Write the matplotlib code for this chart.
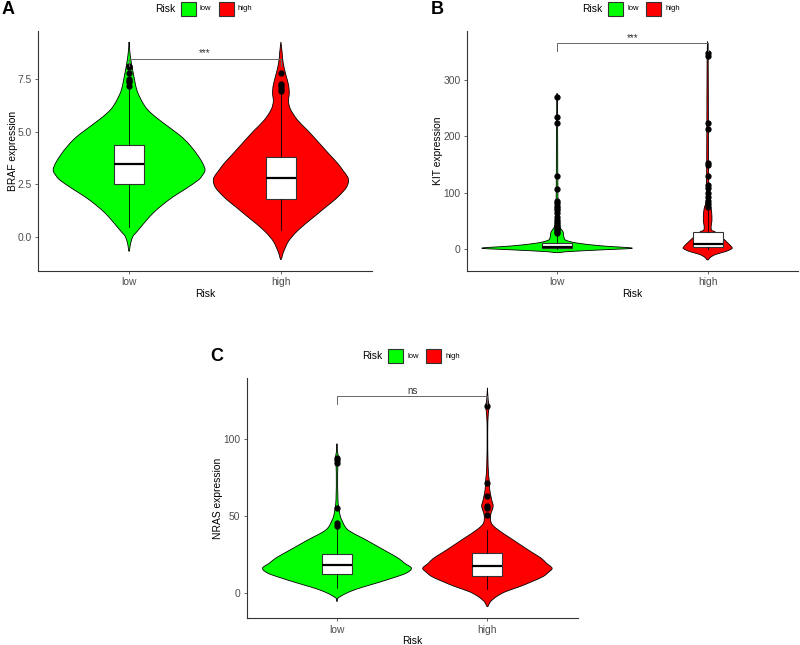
import matplotlib
matplotlib.use("Agg")
import matplotlib.pyplot as plt
from matplotlib.patches import Rectangle, PathPatch
from matplotlib.path import Path

plt.rcParams['font.family'] = ['Liberation Sans', 'DejaVu Sans']

# ---------------- data ----------------
risk_groups = ["low", "high"]
risk_colors = ["#00FF00", "#FF0000"]

# violin outlines: value grid and relative density (1.0 = widest possible violin)
braf_low_y = [9.26, 8.8, 8.26, 7.5, 7.0, 6.65, 6.2, 5.88, 5.5, 5.07, 4.7, 4.28, 3.9, 3.5,
              3.17, 2.9, 2.7, 2.3, 1.91, 1.5, 1.15, 0.8, 0.5, 0.2, 0.03, -0.3, -0.68]
braf_low_d = [0, 0.01, 0.03, 0.07, 0.10, 0.14, 0.21, 0.29, 0.42, 0.58, 0.71, 0.82, 0.90, 0.97,
              1.0, 0.96, 0.91, 0.75, 0.58, 0.43, 0.32, 0.23, 0.16, 0.09, 0.05, 0.02, 0]
braf_high_y = [9.26, 8.8, 8.26, 7.7, 7.22, 6.83, 6.43, 6.04, 5.55, 5.07, 4.68, 4.28, 3.88, 3.49,
               3.15, 2.85, 2.63, 2.4, 2.2, 1.8, 1.42, 1.0, 0.65, 0.3, 0.03, -0.2, -0.44, -0.75, -1.07]
braf_high_d = [0, 0.015, 0.03, 0.066, 0.10, 0.11, 0.10, 0.13, 0.22, 0.35, 0.45, 0.55, 0.65, 0.75,
               0.82, 0.88, 0.89, 0.87, 0.83, 0.72, 0.59, 0.45, 0.33, 0.22, 0.15, 0.10, 0.066, 0.03, 0]

kit_low_y = [277, 240, 200, 100, 50, 40, 35, 30, 25, 20, 15, 10, 5, 1, -2, -5, -7]
kit_low_d = [0, 0.005, 0.008, 0.011, 0.02, 0.033, 0.053, 0.08, 0.086, 0.093, 0.12, 0.27,
             0.6, 1.0, 0.6, 0.16, 0]
kit_high_y = [369, 340, 200, 100, 80, 75, 65, 50, 40, 33, 30, 20, 10, 3, 0, -5, -10, -15, -20]
kit_high_d = [0, 0.007, 0.011, 0.016, 0.027, 0.04, 0.053, 0.057, 0.046, 0.053, 0.1, 0.19,
              0.27, 0.32, 0.32, 0.24, 0.11, 0.04, 0]

nras_low_y = [96.7, 92, 88.5, 84, 77.7, 60.4, 51.8, 47.5, 41, 34.5, 30, 25.9, 22.5, 19.4,
              16.2, 13, 10, 6.5, 3, 0, -3.2, -5.4]
nras_low_d = [0, 0.005, 0.018, 0.015, 0.009, 0.013, 0.036, 0.063, 0.146, 0.386, 0.55, 0.70,
              0.82, 0.90, 0.99, 0.92, 0.75, 0.52, 0.28, 0.124, 0.013, 0]
nras_high_y = [132.8, 125, 120.9, 115, 103.6, 82, 73.4, 66.9, 60.4, 56.1, 50.7, 45.3, 41,
               34.5, 30, 25.9, 22.5, 19.4, 16.2, 13.5, 10.8, 7.5, 4.3, 1, -2.2, -5.5, -8.7]
nras_high_d = [0, 0.01, 0.023, 0.01, 0.004, 0.009, 0.023, 0.031, 0.057, 0.076, 0.044, 0.053,
               0.142, 0.342, 0.48, 0.61, 0.72, 0.785, 0.86, 0.81, 0.74, 0.59, 0.43, 0.24,
               0.12, 0.04, 0]

# box statistics: q1, median, q3, lower whisker, upper whisker
braf_low_box = [2.54, 3.45, 4.39, 0.50, 7.1]
braf_high_box = [1.81, 2.79, 3.82, 0.35, 6.85]
kit_low_box = [0.5, 3.0, 11.0, 0.0, 26.0]
kit_high_box = [2.5, 7.8, 30.3, 0.0, 70.0]
nras_low_box = [12.3, 18.3, 25.2, 3.2, 44.0]
nras_high_box = [11.2, 17.7, 25.9, 2.6, 41.0]

braf_low_out = [7.15, 7.35, 7.4, 7.5, 7.8, 8.05, 8.1]
braf_high_out = [6.95, 7.05, 7.15, 7.25, 7.8]
kit_low_out = [28, 30, 33, 36, 39, 41, 43.5, 48, 52, 57, 63, 69, 72, 76.6, 81, 85, 106, 130,
               223.5, 234, 271]
kit_high_out = [75, 79.7, 85.6, 92.7, 100, 107.6, 113.5, 130, 149, 152, 213, 223.5, 343, 348]
nras_low_out = [43.5, 45.5, 55, 84.3, 86, 87.6]
nras_high_out = [50.5, 55, 56.5, 63, 71.4, 121.3]

# significance brackets: label, height, tip length
braf_sig = ("***", 8.47, 0.34)
kit_sig = ("***", 366, 12.8)
nras_sig = ("ns", 127.3, 4.7)

panels = [
    dict(letter="A", ylabel="BRAF expression",
         violins=[(braf_low_y, braf_low_d), (braf_high_y, braf_high_d)],
         boxes=[braf_low_box, braf_high_box], outs=[braf_low_out, braf_high_out],
         sig=braf_sig, ylim=(-1.61, 9.78), yticks=[0, 2.5, 5, 7.5], fmt="{:.1f}"),
    dict(letter="B", ylabel="KIT expression",
         violins=[(kit_low_y, kit_low_d), (kit_high_y, kit_high_d)],
         boxes=[kit_low_box, kit_high_box], outs=[kit_low_out, kit_high_out],
         sig=kit_sig, ylim=(-39.7, 388), yticks=[0, 100, 200, 300], fmt="{:.0f}"),
    dict(letter="C", ylabel="NRAS expression",
         violins=[(nras_low_y, nras_low_d), (nras_high_y, nras_high_d)],
         boxes=[nras_low_box, nras_high_box], outs=[nras_low_out, nras_high_out],
         sig=nras_sig, ylim=(-16.2, 139), yticks=[0, 50, 100], fmt="{:.0f}"),
]

# ---------------- figure ----------------
W, H = 800, 645
fig = plt.figure(figsize=(8, 6.45), dpi=100)

# axes rectangles in pixels: left, top, right, bottom
rects = [(38, 31, 372, 271), (466.7, 31, 798, 271), (246.7, 378.3, 577.7, 618.3)]


def px(x, y):
    return x / W, 1 - y / H


def smooth_path(pts):
    # closed outline through the points, drawn as Catmull-Rom style Bezier curves
    n = len(pts)
    verts = [pts[0]]
    codes = [Path.MOVETO]
    for i in range(n - 1):
        p0 = pts[i - 1] if i > 0 else pts[i]
        p1, p2 = pts[i], pts[i + 1]
        p3 = pts[i + 2] if i + 2 < n else pts[i + 1]
        c1 = (p1[0] + (p2[0] - p0[0]) / 6, p1[1] + (p2[1] - p0[1]) / 6)
        c2 = (p2[0] - (p3[0] - p1[0]) / 6, p2[1] - (p3[1] - p1[1]) / 6)
        verts += [c1, c2, p2]
        codes += [Path.CURVE4] * 3
    verts.append(pts[0])
    codes.append(Path.CLOSEPOLY)
    return Path(verts, codes)


def draw_violin(ax, pos, vy, vd, color):
    right = [(pos + 0.5 * d, y) for y, d in zip(vy, vd)]
    left = [(pos - 0.5 * d, y) for y, d in zip(vy[::-1], vd[::-1])]
    pts = right + left[1:]
    ax.add_patch(PathPatch(smooth_path(pts), facecolor=color, edgecolor="black",
                           lw=0.6, zorder=1))


def draw_legend(l, t, r):
    cx = (l + r) / 2
    yc = t - 22
    x0 = cx - 50
    fig.text(*px(x0, yc), "Risk", fontsize=7.4, va="center", ha="left")
    offs = [25.5, 63.5]
    for k, (name, col) in enumerate(zip(risk_groups, risk_colors)):
        kx = x0 + offs[k]
        fig.add_artist(Rectangle(px(kx, yc + 7), 15 / W, 14 / H, transform=fig.transFigure,
                                 facecolor=col, edgecolor="#333333", lw=0.8))
        fig.text(*px(kx + 19.5, yc), name, fontsize=5.5, va="center", ha="left")


grey = "#4D4D4D"
for p, (l, t, r, b) in zip(panels, rects):
    ax = fig.add_axes([l / W, 1 - b / H, (r - l) / W, (b - t) / H])
    for i, (vy, vd) in enumerate(p["violins"]):
        draw_violin(ax, i + 1, vy, vd, risk_colors[i])
    stats = []
    for bx, outl, lab in zip(p["boxes"], p["outs"], risk_groups):
        stats.append(dict(q1=bx[0], med=bx[1], q3=bx[2], whislo=bx[3], whishi=bx[4],
                          fliers=outl, label=lab))
    ax.bxp(stats, positions=[1, 2], widths=0.2, showcaps=False, patch_artist=True,
           boxprops=dict(facecolor="white", edgecolor="#333333", lw=0.8),
           medianprops=dict(color="black", lw=1.6),
           whiskerprops=dict(color="black", lw=0.6),
           flierprops=dict(marker="o", markerfacecolor="black", markeredgecolor="black",
                           markersize=3.5), zorder=2)
    lab, sy, tip = p["sig"]
    ax.plot([1, 1, 2, 2], [sy - tip, sy, sy, sy - tip], color="#666666", lw=0.7, zorder=3)
    ax.annotate(lab, (1.5, sy), xytext=(0, 0.5), textcoords="offset points",
                ha="center", va="bottom", fontsize=7, color="#333333")

    ax.set_xlim(0.4, 2.6)
    ax.set_ylim(*p["ylim"])
    ax.set_yticks(p["yticks"])
    ax.set_yticklabels([p["fmt"].format(v) for v in p["yticks"]])
    ax.set_xticks([1, 2])
    ax.set_xticklabels(risk_groups)
    ax.set_xlabel("Risk", fontsize=7.4, labelpad=1)
    ax.set_ylabel(p["ylabel"], fontsize=7.4, labelpad=0)
    ax.tick_params(labelsize=7.4, colors=grey, length=2.5, width=0.6, pad=2)
    for s in ["top", "right"]:
        ax.spines[s].set_visible(False)
    for s in ["left", "bottom"]:
        ax.spines[s].set_color("#333333")
        ax.spines[s].set_linewidth(0.8)

    draw_legend(l, t, r)
    fig.text(*px(l - 36, t - 22), p["letter"], fontsize=13, fontweight="bold",
             va="center", ha="left")

fig.savefig("out.png", dpi=100)
